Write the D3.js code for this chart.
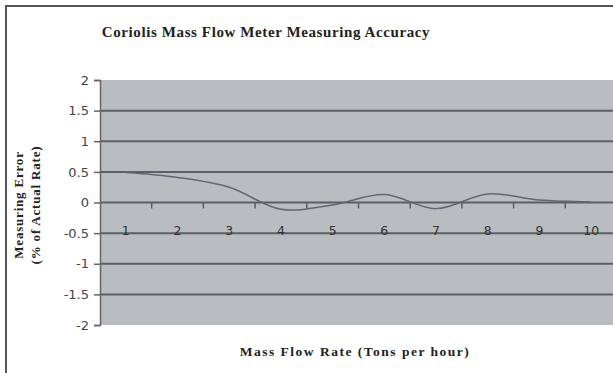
<!DOCTYPE html>
<html>
<head>
<meta charset="utf-8">
<script src="https://cdn.jsdelivr.net/npm/d3@7"></script>
<style>
body { margin: 0; background: #fff; }
svg { display: block; }
</style>
</head>
<body>
<svg id="chart" width="613" height="373"></svg>
<script>
// flow rate categories (tons per hour)
var categories = ['1', '2', '3', '4', '5', '6', '7', '8', '9', '10'];
// measuring error, % of actual rate
var errorValues = [0.49, 0.41, 0.25, -0.11, -0.04, 0.13, -0.10, 0.14, 0.04, 0.01];
var yTicks = [2, 1.5, 1, 0.5, 0, -0.5, -1, -1.5, -2];

var svg = d3.select('#chart');

var plotLeft = 100, plotRight = 617, plotTop = 80, plotBottom = 325;

var x = d3.scaleBand()
    .domain(categories)
    .range([plotLeft, plotRight]);

var y = d3.scaleLinear()
    .domain([-2, 2])
    .range([plotBottom, plotTop]);

// outer frame
svg.append('rect')
    .attr('x', 6).attr('y', 6)
    .attr('width', 640).attr('height', 400)
    .attr('fill', '#fff')
    .attr('stroke', '#555')
    .attr('stroke-width', 2);

// title
svg.append('text')
    .attr('x', 266).attr('y', 37)
    .attr('text-anchor', 'middle')
    .style('font-family', 'Liberation Serif, serif')
    .style('font-weight', 'bold')
    .style('font-size', '15px')
    .style('letter-spacing', '0.6px')
    .style('fill', '#222')
    .text('Coriolis Mass Flow Meter Measuring Accuracy');

// plot area
svg.append('rect')
    .attr('x', plotLeft).attr('y', plotTop)
    .attr('width', plotRight - plotLeft).attr('height', plotBottom - plotTop)
    .attr('fill', '#b9bdc1');

// gridlines
svg.append('g')
    .selectAll('line')
    .data(yTicks.filter(function (d) { return d != 2 && d != -2; }))
    .enter()
    .append('line')
    .attr('x1', plotLeft).attr('x2', plotRight)
    .attr('y1', function (d) { return y(d); })
    .attr('y2', function (d) { return y(d); })
    .attr('stroke', '#5b6065')
    .attr('stroke-width', 2);

// y axis
var yAxis = svg.append('g')
    .attr('transform', 'translate(' + plotLeft + ',0)')
    .call(d3.axisLeft(y).tickValues(yTicks).tickSize(6).tickPadding(5)
        .tickFormat(function (d) { return d; }));
yAxis.select('.domain').attr('stroke', '#666').attr('stroke-width', 1.5);
yAxis.selectAll('.tick line').attr('stroke', '#666').attr('stroke-width', 1.5);
yAxis.selectAll('text')
    .style('font-family', 'DejaVu Sans, sans-serif')
    .style('font-size', '13px')
    .style('fill', '#444');

// category tick marks on the zero line
svg.append('g')
    .selectAll('line')
    .data(categories.slice(1))
    .enter()
    .append('line')
    .attr('x1', function (d) { return x(d); })
    .attr('x2', function (d) { return x(d); })
    .attr('y1', y(0)).attr('y2', y(0) + 6)
    .attr('stroke', '#5b6065')
    .attr('stroke-width', 1.5);

// category labels
svg.append('g')
    .selectAll('text')
    .data(categories)
    .enter()
    .append('text')
    .attr('x', function (d) { return x(d) + x.bandwidth() / 2; })
    .attr('y', y(0) + 32)
    .attr('text-anchor', 'middle')
    .style('font-family', 'DejaVu Sans, sans-serif')
    .style('font-size', '12.5px')
    .style('fill', '#333')
    .text(function (d) { return d; });

// error line
var line = d3.line()
    .x(function (d, i) { return x(categories[i]) + x.bandwidth() / 2; })
    .y(function (d) { return y(d); })
    .curve(d3.curveCatmullRom);

svg.append('path')
    .datum(errorValues)
    .attr('d', line)
    .attr('fill', 'none')
    .attr('stroke', '#5f6874')
    .attr('stroke-width', 1.5);

// y axis title
var yTitle = svg.append('text')
    .attr('transform', 'translate(23,205) rotate(-90)')
    .attr('text-anchor', 'middle')
    .style('font-family', 'Liberation Serif, serif')
    .style('font-weight', 'bold')
    .style('font-size', '13px')
    .style('letter-spacing', '0.8px')
    .style('fill', '#222');
yTitle.append('tspan').attr('x', 0).attr('dy', 0).text('Measuring Error');
yTitle.append('tspan').attr('x', 0).attr('dy', 17).text('(% of Actual Rate)');

// x axis title
svg.append('text')
    .attr('x', 355).attr('y', 356)
    .attr('text-anchor', 'middle')
    .style('font-family', 'Liberation Serif, serif')
    .style('font-weight', 'bold')
    .style('font-size', '13.5px')
    .style('letter-spacing', '1.5px')
    .style('fill', '#222')
    .text('Mass Flow Rate (Tons per hour)');
</script>
</body>
</html>
